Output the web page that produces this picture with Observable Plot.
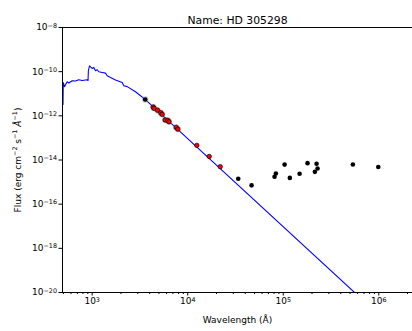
<!DOCTYPE html>
<html><head><meta charset="utf-8">
<script src="https://cdn.jsdelivr.net/npm/d3@7"></script>
<script src="https://cdn.jsdelivr.net/npm/@observablehq/plot@0.6"></script>
<style>body{margin:0;background:#fff} svg{display:block}</style>
</head><body><div id="chart"></div>
<script>
const titleText = "Name: HD 305298";
const xLabel = "Wavelength (Å)";

// model SED (wavelength in Å, flux in erg cm-2 s-1 Å-1)
const modelWave = [495, 498, 513, 547, 569, 618, 669, 724, 786, 887, 905, 912, 937, 967, 1000, 1040, 1083, 1128, 1173, 1273, 1378, 1435, 1554, 1754, 2061, 2143, 2325, 2838, 3557, 558000];
const modelFlux = [3.3e-12, 3.2e-11, 2.1e-11, 3.5e-11, 3.05e-11, 3.9e-11, 3.8e-11, 4.3e-11, 4.0e-11, 4.3e-11, 4.0e-11, 1.1e-10, 1.85e-10, 1.6e-10, 1.4e-10, 1.55e-10, 1.1e-10, 1.22e-10, 9.9e-11, 9.2e-11, 8.6e-11, 6.5e-11, 5.4e-11, 4.2e-11, 3.25e-11, 2.3e-11, 2.1e-11, 1.23e-11, 5.7e-12, 1e-20];

// fitted photometry (red)
const fitWave = [4350, 4440, 4830, 5220, 5400, 5800, 6190, 6370, 7580, 7880, 12450, 16800, 21900];
const fitFlux = [2.5e-12, 2.2e-12, 1.8e-12, 1.38e-12, 1.17e-12, 6.5e-13, 6.2e-13, 5.4e-13, 3.0e-13, 2.5e-13, 4.6e-14, 1.45e-14, 5.0e-15];

// other photometry (black)
const obsWave = [3590, 33800, 46600, 81100, 83700, 103300, 117200, 148300, 179500, 214300, 223300, 228600, 535600, 988000];
const obsFlux = [5.5e-12, 1.41e-15, 7.1e-16, 1.74e-15, 2.45e-15, 6.2e-15, 1.55e-15, 2.4e-15, 7.2e-15, 2.9e-15, 6.8e-15, 4.1e-15, 6.3e-15, 4.8e-15];

// ticks
const xMajor = [1e3, 1e4, 1e5, 1e6];
const xMinor = [500, 600, 700, 800, 900, 2000, 3000, 4000, 5000, 6000, 7000, 8000, 9000,
  2e4, 3e4, 4e4, 5e4, 6e4, 7e4, 8e4, 9e4, 2e5, 3e5, 4e5, 5e5, 6e5, 7e5, 8e5, 9e5, 2e6];
const yMajor = [1e-20, 1e-18, 1e-16, 1e-14, 1e-12, 1e-10, 1e-8];

const model = modelWave.map((w, i) => ({w, f: modelFlux[i]}));
const fit = fitWave.map((w, i) => ({w, f: fitFlux[i]}));
const obs = obsWave.map((w, i) => ({w, f: obsFlux[i]}));
const halo = [obs[0], ...fit.slice(0, 10)];

const expFmt = d => "10^" + Math.round(Math.log10(d));

const chart = Plot.plot({
  width: 412, height: 331,
  marginLeft: 62, marginRight: 0, marginTop: 27, marginBottom: 39,
  style: {fontFamily: "DejaVu Sans", fontSize: "9px", color: "black", background: "white", overflow: "visible"},
  x: {type: "log", domain: [489, 2.254e6]},
  y: {type: "log", domain: [1e-20, 1e-8]},
  marks: [
    Plot.line(model, {x: "w", y: "f", stroke: "blue", strokeWidth: 1.1, clip: true}),
    Plot.dot(halo, {x: "w", y: "f", r: 3.2, fill: "#8a8a8a", fillOpacity: 0.45}),
    Plot.dot(obs, {x: "w", y: "f", r: 2.3, fill: "black"}),
    Plot.dot(fit, {x: "w", y: "f", r: 2.2, fill: "red", stroke: "black", strokeWidth: 0.7}),
    Plot.ruleY([1e-8], {stroke: "black", strokeWidth: 1}),
    Plot.ruleY([1e-20], {stroke: "black", strokeWidth: 1}),
    Plot.ruleX([489], {stroke: "black", strokeWidth: 1}),
    Plot.axisX(xMinor, {tickSize: 2, tickFormat: () => "", label: null}),
    Plot.axisX(xMajor, {tickSize: 3.5, tickPadding: 2, tickFormat: expFmt, label: xLabel, labelAnchor: "center", labelOffset: 30, labelArrow: "none"}),
    Plot.axisY(yMajor, {tickSize: 3.5, tickPadding: 2, tickFormat: expFmt, label: "Flux (erg cm-2 s-1 Å-1)", labelAnchor: "center", labelOffset: 48, labelArrow: "none"}),
    Plot.text([titleText], {frameAnchor: "top", dy: -11, fontSize: 10.8, fill: "black"})
  ]
});
document.getElementById("chart").appendChild(chart);

// mathtext-like superscripts in tick labels
const svg = d3.select(chart);
svg.selectAll("text").each(function () {
  const el = d3.select(this);
  const t = this.textContent;
  const m = /^10\^(-?\d+)$/.exec(t);
  if (m) {
    el.text("");
    el.append("tspan").text("10");
    el.append("tspan").attr("dy", "-0.45em").attr("font-size", "6.4px").text(m[1].replace("-", "−"));
  }
});
// y label with superscripts
svg.selectAll("text").filter(function () { return this.textContent.startsWith("Flux"); }).each(function () {
  const el = d3.select(this);
  el.text("");
  const parts = [["Flux (erg cm", ""], ["−2", "s"], [" s", ""], ["−1", "s"], [" Å", "i"], ["−1", "s"], [")", ""]];
  let up = false;
  for (const [txt, kind] of parts) {
    const ts = el.append("tspan").text(txt);
    if (kind === "s") { ts.attr("font-size", "6.4px").attr("dy", "-0.55em"); up = true; }
    else if (up) { ts.attr("dy", "0.385em"); up = false; }
    if (kind === "i") ts.attr("font-style", "italic");
  }
});
</script>
</body></html>
